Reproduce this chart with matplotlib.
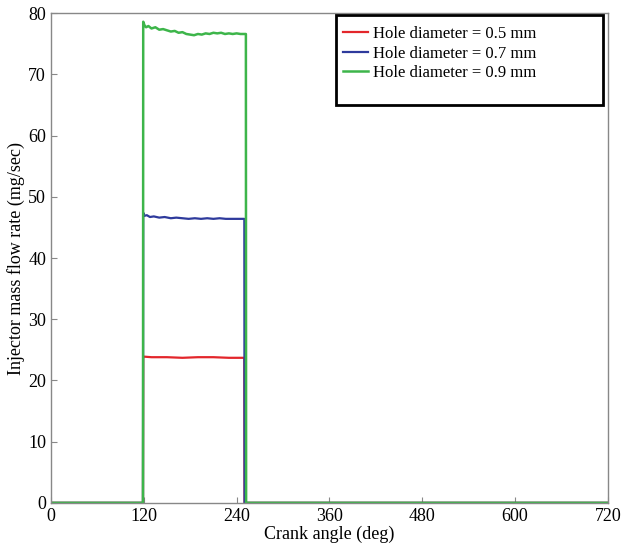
import matplotlib.pyplot as plt
from matplotlib.patches import Rectangle

plt.rcParams['font.family'] = ['Liberation Serif', 'DejaVu Serif']

# --- Dados ---
# Diâmetro 0.5 mm
x_05 = [0, 119, 119.3, 130, 150, 170, 190, 210, 230, 250, 250.3, 720]
y_05 = [0, 0, 23.9, 23.8, 23.8, 23.7, 23.8, 23.8, 23.7, 23.7, 0, 0]

# Diâmetro 0.7 mm
x_07 = [0, 119, 119.3, 121, 124, 128, 133, 140, 147, 155, 162, 170, 178, 186,
        194, 202, 210, 218, 226, 234, 242, 250, 250.3, 720]
y_07 = [0, 0, 47.4, 46.9, 47.0, 46.7, 46.8, 46.6, 46.7, 46.5, 46.6, 46.5, 46.4, 46.5,
        46.4, 46.5, 46.4, 46.5, 46.4, 46.4, 46.4, 46.4, 0, 0]

# Diâmetro 0.9 mm
x_09 = [0, 119, 119.3, 121, 123, 126, 130, 135, 140, 145, 150, 155, 160, 165, 170,
        175, 180, 185, 190, 195, 200, 205, 210, 215, 220, 225, 230, 235, 240, 245,
        252, 252.3, 720]
y_09 = [0, 0, 78.6, 78.0, 77.7, 77.9, 77.5, 77.7, 77.3, 77.4, 77.2, 77.0, 77.1, 76.8,
        76.9, 76.6, 76.5, 76.4, 76.6, 76.5, 76.7, 76.6, 76.8, 76.7, 76.8, 76.6, 76.7,
        76.6, 76.7, 76.6, 76.6, 0, 0]

x_ticks = [0, 120, 240, 360, 480, 600, 720]
y_ticks = [0, 10, 20, 30, 40, 50, 60, 70, 80]

fig = plt.figure(figsize=(6.21, 5.49), dpi=100)
ax = fig.add_axes([0.082, 0.084, 0.897, 0.892])

ax.plot(x_05, y_05, color='#e3262b', lw=1.6, label='Hole diameter = 0.5 mm')
ax.plot(x_07, y_07, color='#2e3a9c', lw=1.6, label='Hole diameter = 0.7 mm')
ax.plot(x_09, y_09, color='#3db54a', lw=1.8, label='Hole diameter = 0.9 mm')

ax.set_xlim(0, 720)
ax.set_ylim(0, 80)
ax.set_xticks(x_ticks)
ax.set_yticks(y_ticks)
ax.tick_params(direction='in', length=4, color='#888888', labelsize=13)
for s in ax.spines.values():
    s.set_color('#888888')
    s.set_linewidth(1.0)

ax.set_xlabel('Crank angle (deg)', fontsize=13, labelpad=1)
ax.set_ylabel('Injector mass flow rate (mg/sec)', fontsize=13, labelpad=2)

# --- Legenda com moldura preta ---
ax.legend(loc='upper left', bbox_to_anchor=(0.497, 1.004), frameon=False, fontsize=12,
          handlelength=1.5, handletextpad=0.3, labelspacing=0.2, borderaxespad=0.5)
ax.add_patch(Rectangle((0.512, 0.812), 0.479, 0.184, transform=ax.transAxes,
                       fill=False, edgecolor='black', lw=2, zorder=5))

fig.savefig('out.png', dpi=100)
